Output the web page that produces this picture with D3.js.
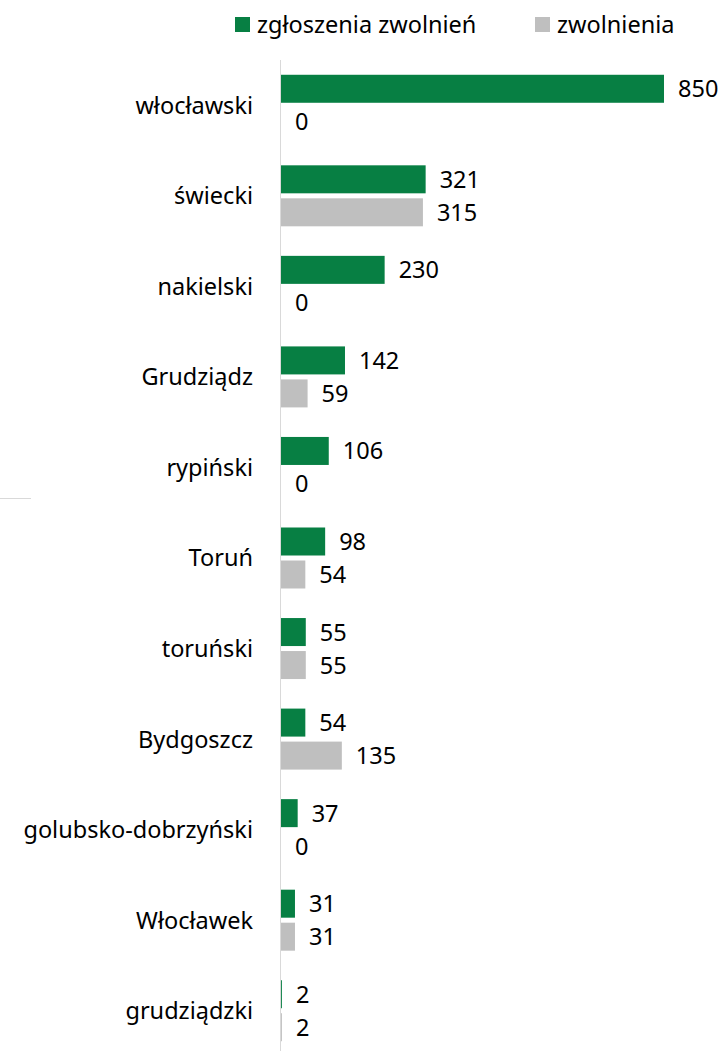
<!DOCTYPE html>
<html>
<head>
<meta charset="utf-8">
<script src="https://d3js.org/d3.v7.min.js"></script>
<style>
  body { margin: 0; background: #fff; }
  text { font-family: "Noto Sans", "Open Sans", sans-serif; fill: #000; }
</style>
</head>
<body>
<svg width="726" height="1051"></svg>
<script>
var categories = ["włocławski", "świecki", "nakielski", "Grudziądz", "rypiński", "Toruń",
                  "toruński", "Bydgoszcz", "golubsko-dobrzyński", "Włocławek", "grudziądzki"];
var zgloszenia = [850, 321, 230, 142, 106, 98, 55, 54, 37, 31, 2];
var zwolnienia = [0, 315, 0, 59, 0, 54, 55, 135, 0, 31, 2];
var seriesNames = ["zgłoszenia zwolnień", "zwolnienia"];
var colors = ["#077f43", "#bfbfbf"];

var svg = d3.select("svg");
var x0 = 281, fs = 23.5;

var x = d3.scaleLinear().domain([0, 850]).range([x0, 664]);
var y = d3.scaleBand().domain(categories).range([60, 1056]).paddingInner(0).paddingOuter(0);

var barH = 28, gap = 5;

// stray line on the left
svg.append("line").attr("x1", 0).attr("x2", 31).attr("y1", 498.5).attr("y2", 498.5)
  .attr("stroke", "#d9d9d9").attr("stroke-width", 1);

var groups = svg.selectAll("g.cat").data(categories).enter().append("g")
  .attr("class", "cat");

var series = [zgloszenia, zwolnienia];
series.forEach(function(vals, s) {
  groups.append("rect")
    .attr("x", x0)
    .attr("y", function(d, i) { return y(d) + y.bandwidth() / 2 - barH - gap / 2 + s * (barH + gap); })
    .attr("width", function(d, i) { return x(vals[i]) - x0; })
    .attr("height", barH)
    .attr("fill", colors[s]);
  groups.append("text")
    .attr("x", function(d, i) { return x(vals[i]) + 14; })
    .attr("y", function(d, i) { return y(d) + y.bandwidth() / 2 - barH / 2 - gap / 2 + s * (barH + gap); })
    .attr("dy", "0.36em")
    .style("font-size", fs + "px")
    .text(function(d, i) { return vals[i]; });
});

groups.append("text")
  .attr("x", 253)
  .attr("y", function(d) { return y(d) + y.bandwidth() / 2; })
  .attr("dy", "0.36em")
  .attr("text-anchor", "end")
  .style("font-size", fs + "px")
  .text(function(d) { return d; });

// axis line
svg.append("line").attr("x1", x0 - 0.5).attr("x2", x0 - 0.5).attr("y1", 60).attr("y2", 1051)
  .attr("stroke", "#d9d9d9").attr("stroke-width", 1);

// legend
var legX = [235, 535];
var leg = svg.selectAll("g.leg").data(seriesNames).enter().append("g").attr("class", "leg")
  .attr("transform", function(d, i) { return "translate(" + legX[i] + ",17)"; });
leg.append("rect").attr("width", 15).attr("height", 15).attr("fill", function(d, i) { return colors[i]; });
leg.append("text").attr("x", 22).attr("y", 8).attr("dy", "0.36em")
  .style("font-size", fs + "px").text(function(d) { return d; });
</script>
</body>
</html>
